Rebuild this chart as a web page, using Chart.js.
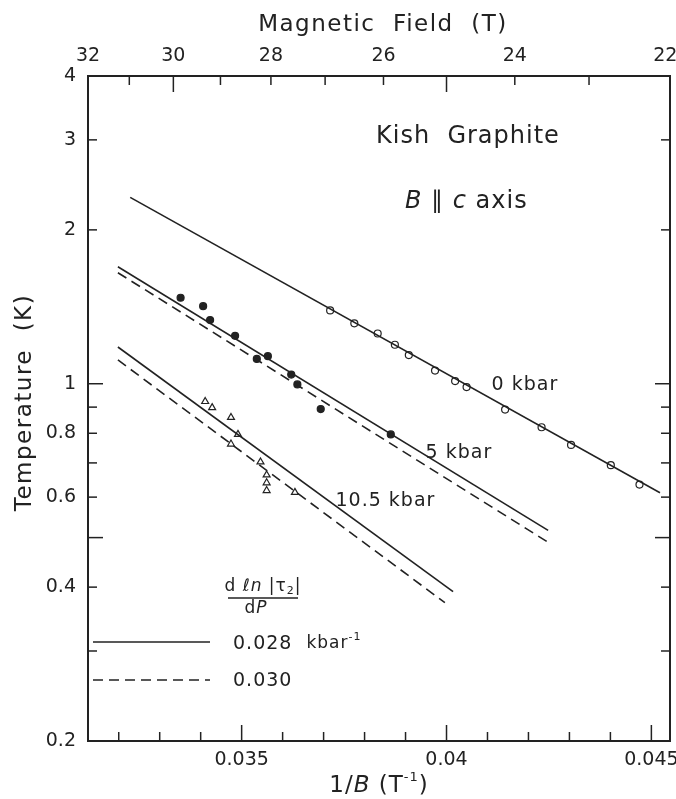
<!DOCTYPE html>
<html>
<head>
<meta charset="utf-8">
<script src="https://cdn.jsdelivr.net/npm/chart.js@4.4.0/dist/chart.umd.min.js"></script>
<style>
  html, body { margin: 0; padding: 0; background: #fff; }
  #wrap { width: 676px; height: 799px; }
</style>
</head>
<body>
<div id="wrap"><canvas id="chart" width="676" height="799"></canvas></div>
<script>
// axis ticks
const fieldTicks = [32, 31, 30, 29, 28, 27, 26, 25, 24, 23, 22];
const fieldLabels = [32, 30, 28, 26, 24, 22];
const fieldMajor = [30, 25];
const invBTicks = [0.032, 0.033, 0.034, 0.035, 0.036, 0.037, 0.038, 0.039, 0.04, 0.041, 0.042, 0.043, 0.044, 0.045];
const invBLabels = [0.035, 0.04, 0.045];
const invBMajor = [0.035, 0.04, 0.045];
const tempTicks = [0.2, 0.3, 0.4, 0.5, 0.6, 0.7, 0.8, 0.9, 1, 2, 3, 4];
const tempLabels = [0.2, 0.4, 0.6, 0.8, 1, 2, 3, 4];
const tempMajor = [0.5, 1];

// 0 kbar, open circles
const invB0 = [0.03716, 0.03775, 0.03832, 0.03874, 0.03908, 0.03972, 0.04021, 0.04049, 0.04143, 0.04232, 0.04304, 0.04401, 0.04471];
const temp0 = [1.391, 1.313, 1.254, 1.192, 1.138, 1.061, 1.012, 0.985, 0.890, 0.822, 0.759, 0.693, 0.635];
// 5 kbar, filled circles
const invB5 = [0.03351, 0.03406, 0.03423, 0.03484, 0.03537, 0.03564, 0.03621, 0.03636, 0.03693, 0.03864];
const temp5 = [1.473, 1.418, 1.332, 1.241, 1.118, 1.132, 1.042, 0.997, 0.892, 0.796];
// 10.5 kbar, open triangles
const invB10 = [0.03411, 0.03428, 0.03474, 0.03491, 0.03474, 0.03546, 0.03561, 0.03561, 0.03561, 0.03630];
const temp10 = [0.923, 0.898, 0.859, 0.796, 0.762, 0.703, 0.663, 0.640, 0.618, 0.613];

// fitted lines (end points)
const fit0X = [0.03228, 0.04521];
const fit0T = [2.315, 0.612];
const fit5X = [0.03198, 0.04248];
const fit5T = [1.694, 0.5165];
const fit5dT = [1.649, 0.4895];
const fit10X = [0.03198, 0.04016];
const fit10T = [1.180, 0.392];
const fit10dX = [0.03198, 0.03996];
const fit10dT = [1.113, 0.373];

const ink = '#222';
const FONT = '"DejaVu Sans", sans-serif';

function pts(xs, ys) {
    return xs.map((x, i) => ({ x: x, y: ys[i] }));
}

function lineSet(xs, ys, dashed) {
    return {
        data: pts(xs, ys),
        showLine: true,
        borderColor: ink,
        borderWidth: 1.6,
        borderDash: dashed ? [10, 6] : [],
        pointRadius: 0,
        fill: false
    };
}

function markSet(xs, ys, style, filled) {
    return {
        data: pts(xs, ys),
        showLine: false,
        pointStyle: style,
        pointRadius: style === 'triangle' ? 4 : 3.5,
        pointBorderWidth: 1.2,
        pointBorderColor: ink,
        pointBackgroundColor: filled ? ink : '#fff'
    };
}

function seg(ctx, x1, y1, x2, y2) {
    ctx.beginPath();
    ctx.moveTo(x1, y1);
    ctx.lineTo(x2, y2);
    ctx.stroke();
}

// draws a run of [text, font, dy] pieces starting at x
function pieces(ctx, list, x, y) {
    list.forEach(p => {
        ctx.font = p[1];
        const dy = p[2] || 0;
        ctx.fillText(p[0], x, y + dy);
        x += ctx.measureText(p[0]).width;
    });
    return x;
}

function piecesWidth(ctx, list) {
    let w = 0;
    list.forEach(p => { ctx.font = p[1]; w += ctx.measureText(p[0]).width; });
    return w;
}

const decorPlugin = {
    id: 'decor',
    afterDraw(chart) {
        const { ctx, chartArea: a, scales } = chart;
        ctx.save();
        ctx.strokeStyle = ink;
        ctx.fillStyle = ink;

        // frame
        ctx.lineWidth = 2;
        ctx.strokeRect(a.left, a.top, a.right - a.left, a.bottom - a.top);

        // inward ticks
        ctx.lineWidth = 1.5;
        invBTicks.forEach(v => {
            const x = scales.x.getPixelForValue(v);
            const len = invBMajor.includes(v) ? 16 : 9;
            seg(ctx, x, a.bottom, x, a.bottom - len);
        });
        fieldTicks.forEach(b => {
            if (b === 32 || b === 22) return;
            const x = scales.x2.getPixelForValue(1 / b);
            const len = fieldMajor.includes(b) ? 16 : 9;
            seg(ctx, x, a.top, x, a.top + len);
        });
        tempTicks.forEach(t => {
            if (t === 0.2 || t === 4) return;
            const y = scales.y.getPixelForValue(t);
            const len = tempMajor.includes(t) ? 15 : 9;
            seg(ctx, a.left, y, a.left + len, y);
            seg(ctx, a.right, y, a.right - len, y);
        });

        ctx.textBaseline = 'middle';
        if (ctx.letterSpacing !== undefined) ctx.letterSpacing = '1.5px';

        // axis titles
        const big = '23px ' + FONT;
        const bigI = 'italic 23px ' + FONT;
        ctx.textAlign = 'center';
        ctx.font = big;
        ctx.fillText('Magnetic  Field  (T)', (a.left + a.right) / 2 + 4, 25);

        ctx.save();
        ctx.translate(25, (a.top + a.bottom) / 2 - 6);
        ctx.rotate(-Math.PI / 2);
        ctx.fillText('Temperature  (K)', 0, 0);
        ctx.restore();

        ctx.textAlign = 'left';
        if (ctx.letterSpacing !== undefined) ctx.letterSpacing = '1px';
        const bt = [['1/', big], ['B', bigI], [' (T', big], ['-1', '13px ' + FONT, -8], [')', big]];
        pieces(ctx, bt, (a.left + a.right) / 2 - piecesWidth(ctx, bt) / 2, 786);

        // sample labels
        const mid = '24px ' + FONT;
        ctx.font = mid;
        ctx.fillText('Kish  Graphite', 376, 137);
        pieces(ctx, [['B', 'italic 24px ' + FONT], [' \u2225 ', mid], ['c', 'italic 24px ' + FONT], [' axis', mid]], 405, 202);

        const lab = '19px ' + FONT;
        ctx.font = lab;
        ctx.fillText('0 kbar', scales.x.getPixelForValue(0.04110), scales.y.getPixelForValue(0.992));
        ctx.fillText('5 kbar', scales.x.getPixelForValue(0.03949), scales.y.getPixelForValue(0.7316));
        ctx.fillText('10.5 kbar', scales.x.getPixelForValue(0.03729), scales.y.getPixelForValue(0.5905));

        // legend
        ctx.lineWidth = 1.6;
        seg(ctx, 93, 642, 210, 642);
        ctx.setLineDash([10, 6]);
        seg(ctx, 93, 680, 210, 680);
        ctx.setLineDash([]);
        pieces(ctx, [['0.028  ', lab], ['kbar', '17px ' + FONT], ['-1', '11px ' + FONT, -7]], 233, 644);
        ctx.font = lab;
        ctx.fillText('0.030', 233, 681);

        const fr = '17px ' + FONT;
        const num = [['d ', fr], ['\u2113n', 'italic 17px ' + FONT], [' |\u03c4', fr], ['2', '11px ' + FONT, 4], ['|', fr]];
        const nw = piecesWidth(ctx, num);
        pieces(ctx, num, 263 - nw / 2, 587);
        ctx.lineWidth = 1.3;
        seg(ctx, 228, 598, 298, 598);
        const den = [['d', fr], ['P', 'italic 17px ' + FONT]];
        pieces(ctx, den, 256 - piecesWidth(ctx, den) / 2, 609);

        ctx.restore();
    }
};

const tickFont = { family: FONT, size: 19 };

function noSidePadding(s) {
    s.paddingLeft = 0;
    s.paddingRight = 0;
}

new Chart(document.getElementById('chart'), {
    type: 'scatter',
    data: {
        datasets: [
            lineSet(fit0X, fit0T, false),
            lineSet(fit5X, fit5T, false),
            lineSet(fit5X, fit5dT, true),
            lineSet(fit10X, fit10T, false),
            lineSet(fit10dX, fit10dT, true),
            markSet(invB0, temp0, 'circle', false),
            markSet(invB5, temp5, 'circle', true),
            markSet(invB10, temp10, 'triangle', false)
        ]
    },
    options: {
        responsive: false,
        animation: false,
        devicePixelRatio: 1,
        layout: { padding: { left: 0, right: 6, top: 0, bottom: 0 } },
        plugins: { legend: { display: false }, tooltip: { enabled: false } },
        scales: {
            x: {
                type: 'linear',
                position: 'bottom',
                min: 1 / 32,
                max: 1 / 22,
                afterBuildTicks: s => { s.ticks = invBTicks.map(v => ({ value: v })); },
                afterFit: s => { s.height = 58; noSidePadding(s); },
                grid: { display: false, drawTicks: false },
                border: { display: false },
                ticks: {
                    autoSkip: false,
                    maxRotation: 0,
                    padding: 8,
                    color: ink,
                    font: tickFont,
                    callback: v => invBLabels.includes(v) ? String(v) : ''
                }
            },
            x2: {
                type: 'linear',
                position: 'top',
                min: 1 / 32,
                max: 1 / 22,
                afterBuildTicks: s => { s.ticks = fieldTicks.map(b => ({ value: 1 / b })); },
                afterFit: s => { s.height = 76; noSidePadding(s); },
                grid: { display: false, drawTicks: false },
                border: { display: false },
                ticks: {
                    autoSkip: false,
                    maxRotation: 0,
                    padding: 9,
                    color: ink,
                    font: tickFont,
                    callback: v => {
                        const b = Math.round(1 / v);
                        if (!fieldLabels.includes(b)) return '';
                        return b === 22 ? '22\u2002' : String(b);
                    }
                }
            },
            y: {
                type: 'logarithmic',
                position: 'left',
                min: 0.2,
                max: 4,
                afterBuildTicks: s => { s.ticks = tempTicks.map(t => ({ value: t })); },
                afterFit: s => { s.width = 88; },
                grid: { display: false, drawTicks: false },
                border: { display: false },
                ticks: {
                    autoSkip: false,
                    padding: 12,
                    color: ink,
                    font: tickFont,
                    callback: v => tempLabels.includes(v) ? String(v) : ''
                }
            }
        }
    },
    plugins: [decorPlugin]
});
</script>
</body>
</html>
